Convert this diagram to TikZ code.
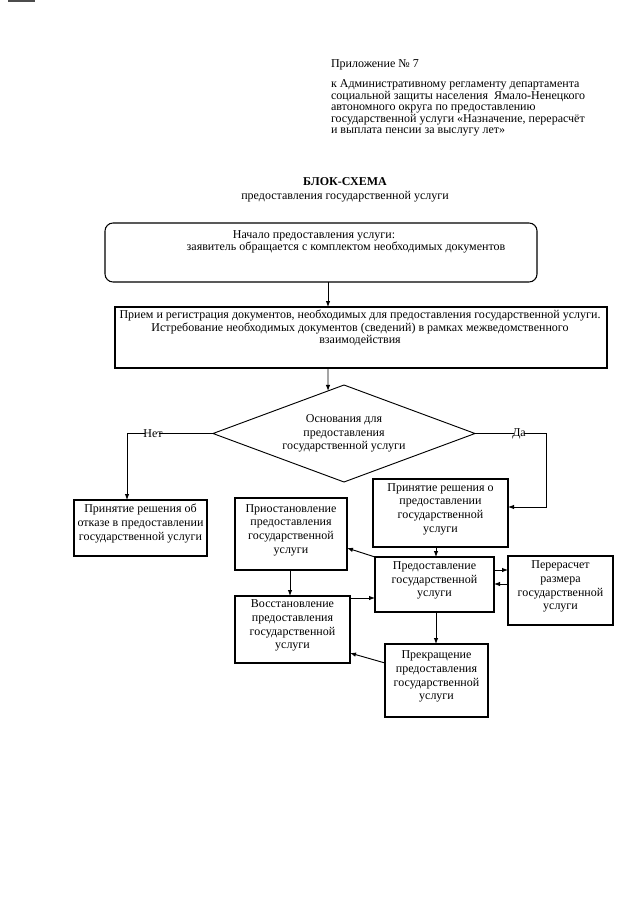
\documentclass[tikz,border=0pt]{standalone}
\usepackage{fontspec}
\setmainfont{Liberation Serif}
\usetikzlibrary{arrows.meta,calc,fit,shapes.geometric}
\begin{document}
\begin{tikzpicture}[x=0.75pt,y=-0.75pt,
  every node/.style={font=\fontsize{9}{10.3}\selectfont, inner sep=0pt, outer sep=0pt},
  box/.style={draw, line width=0.8pt, align=center, inner sep=0pt},
  txt/.style={align=center},
  conn/.style={line width=0.7pt},
  arr/.style={conn, -{Latex[length=4.5pt,width=3.4pt]}},
]
\useasboundingbox (0,0) rectangle (640,905);
% scan mark
\fill[black!70] (8,0) rectangle (35,1.6);

% header
\node[anchor=west] (app) at (331,65) {Приложение № 7};
\node[anchor=west, align=left, font=\fontsize{9}{8.7}\selectfont] (reg) at (331,108) {к Административному регламенту департамента\\
социальной защиты населения\ \ Ямало-Ненецкого\\
автономного округа по предоставлению\\
государственной услуги «Назначение, перерасчёт\\
и выплата пенсии за выслугу лет»};

\node[font=\fontsize{9}{10.3}\selectfont\bfseries] (title) at (345,182) {БЛОК-СХЕМА};
\node (subtitle) at (345,197) {предоставления государственной услуги};

% start box
\node[box, rounded corners=6pt, fit={(105,223) (537,282)}] (start) {};
\node (start-t1) at (314,236) {Начало предоставления услуги:};
\node (start-t2) at (346,248) {заявитель обращается с комплектом необходимых документов};

% reception box
\node[box, fit={(115,307) (607,368)}] (recv) {};
\node[txt, font=\fontsize{9}{9.4}\selectfont] (recv-t) at (360,328) {Прием и регистрация документов, необходимых для предоставления государственной услуги.\\
Истребование необходимых документов (сведений) в рамках межведомственного\\
взаимодействия};

% decision
\node[draw, diamond, line width=0.7pt, minimum width=196.5pt, minimum height=72.75pt, inner sep=0pt] (dia) at (344,433.5) {};
\node[txt] (dia-t) at (344,433.5) {Основания для\\предоставления\\государственной услуги};

\node (no) at (153,433.5) {Нет};
\node (yes) at (519,433.5) {Да};

% boxes
\node[box, fit={(74,500) (207,556)}] (otk) {Принятие решения об\\отказе в предоставлении\\государственной услуги};
\node[box, fit={(235,498) (347,570)}] (prio) {Приостановление\\предоставления\\государственной\\услуги};
\node[box, fit={(373,479) (508,547)}] (prin) {Принятие решения о\\предоставлении\\государственной\\услуги};
\node[box, fit={(375,557) (494,612)}] (pred) {Предоставление\\государственной\\услуги};
\node[box, fit={(508,556) (613,625)}] (pere) {Перерасчет\\размера\\государственной\\услуги};
\node[box, fit={(235,596) (350,663)}] (vos) {Восстановление\\предоставления\\государственной\\услуги};
\node[box, fit={(385,644) (488,717)}] (prek) {Прекращение\\предоставления\\государственной\\услуги};

% coordinates
\coordinate (a1) at (328,282);
\coordinate (a2) at (328,368);
\coordinate (dtop) at ($(dia.north)!16/131!(dia.west)$);
\coordinate (noturn) at (127,433.5);
\coordinate (yesturn) at (546,433.5);
\coordinate (yesdown) at (546,507);
\coordinate (prioin) at ($(prio.east)+(0,14)$);
\coordinate (vosout) at ($(vos.north east)+(0,2)$);
\coordinate (prekout) at ($(prek.north west)+(0,19)$);
\coordinate (vosin) at ($(vos.south east)+(0,-10)$);
\coordinate (ppup) at (pred.east |- 0,570);
\coordinate (ppdn) at (pere.west |- 0,584);

% connectors
\draw[arr] (a1) -- (a1 |- recv.north);
\draw[arr] (a2) -- (dtop);
\draw[conn] (dia.west) -- ([xshift=-2.5pt]no.east);
\draw[arr] ([xshift=1pt]no.west) -- (noturn) -- (noturn |- otk.north);
\draw[conn] (dia.east) -- ([xshift=1.5pt]yes.west);
\draw[arr] ([xshift=-1pt]yes.east) -- (yesturn) -- (yesdown) -- (yesdown -| prin.east);
\draw[arr] (prin.south -| 436,0) -- (436,0 |- pred.north);
\draw[arr] (ppup) -- (ppup -| pere.west);
\draw[arr] (ppdn) -- (ppdn -| pred.east);
\draw[arr] (pred.north west) -- (prioin);
\draw[arr] (prio.south -| 290,0) -- (290,0 |- vos.north);
\draw[arr] (vosout) -- (vosout -| pred.west);
\draw[arr] (pred.south -| 436,0) -- (436,0 |- prek.north);
\draw[arr] (prekout) -- (vosin);
\end{tikzpicture}
\end{document}
